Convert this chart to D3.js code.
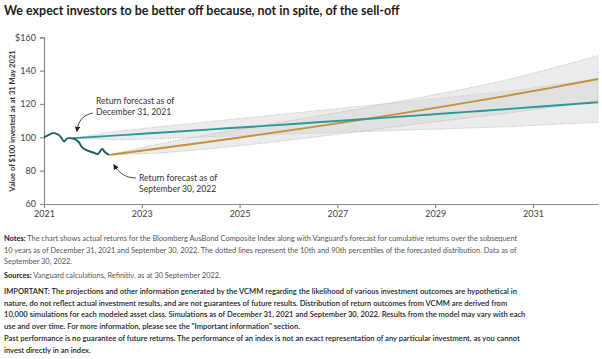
<!DOCTYPE html>
<html><head><meta charset="utf-8">
<script src="https://cdn.jsdelivr.net/npm/d3@7"></script>
<style>
body{margin:0;background:#fff;}
svg{display:block;font-family:Lato,"Noto Sans",sans-serif;}
</style></head>
<body><svg id="c" width="602" height="359"></svg>
<script>
// ---- data (years since 31 May 2021, value of $100) ----
const histT   = [0, 0.1, 0.18, 0.27, 0.35, 0.41, 0.47, 0.53, 0.61, 0.7, 0.78, 0.86, 0.94, 1.04, 1.1, 1.19, 1.25, 1.33];
const histV   = [100, 101.5, 102.5, 102, 100, 97.5, 99.3, 99.5, 99, 97.5, 94, 92.5, 91.5, 90.5, 90, 93, 91, 89.5];

const decT    = [0.59, 1.59, 2.59, 3.59, 4.59, 5.59, 6.59, 7.59, 8.59, 9.59, 10.59, 11.33];
const decMid  = [99.5, 101.3, 103.2, 105.1, 107.0, 109.0, 111.0, 113.0, 115.1, 117.2, 119.4, 121.0];
const decLo   = [99.5, 98.5, 99.5, 100.5, 101.5, 102.5, 103.5, 104.5, 105.5, 106.5, 108, 109];
const decHi   = [99.5, 104, 107, 110, 113, 116, 119, 122, 125, 128, 132, 135];

const sepT    = [1.34, 2.34, 3.34, 4.34, 5.34, 6.34, 7.34, 8.34, 9.34, 10.34, 11.33];
const sepMid  = [89.5, 93.3, 97.2, 101.3, 105.5, 109.9, 114.5, 119.3, 124.3, 129.5, 135.0];
const sepLo   = [89.5, 90.5, 93, 96, 99.5, 103, 107, 110.5, 114, 118, 122];
const sepHi   = [89.5, 96, 101.5, 106.5, 111.5, 116.5, 122, 127.5, 133.5, 141, 149];

const xTickVals   = [0, 2, 4, 6, 8, 10];
const xTickLabels = ["2021", "2023", "2025", "2027", "2029", "2031"];
const yTickVals   = [60, 80, 100, 120, 140, 160];
const yTickLabels = ["60", "80", "100", "120", "140", "$160"];

const title = "We expect investors to be better off because, not in spite, of the sell-off";
const yTitle = "Value of $100 invested as at 31 May 2021";
const ann1 = ["Return forecast as of", "December 31, 2021"];
const ann2 = ["Return forecast as of", "September 30, 2022"];

// ---- build ----
const svg = d3.select("#c");
const x = d3.scaleLinear().domain([0, 11.33]).range([44, 598]);
const y = d3.scaleLinear().domain([60, 160]).range([204, 37.3]);

const tt = svg.append("text").attr("x", 4).attr("y", 15).attr("font-size", 13)
  .attr("font-weight", 700).attr("fill", "#1b1b1b").text(title);
tt.attr("font-size", 13 * 396 / tt.node().getComputedTextLength());

// bands
function band(T, lo, hi) {
  const pts = T.map((t, i) => ({t, lo: lo[i], hi: hi[i]}));
  svg.append("path").datum(pts)
    .attr("d", d3.area().x(d => x(d.t)).y0(d => y(d.lo)).y1(d => y(d.hi)))
    .attr("fill", "#d4d4d4").attr("fill-opacity", 0.45);
  ["lo", "hi"].forEach(k => {
    svg.append("path").datum(pts)
      .attr("d", d3.line().x(d => x(d.t)).y(d => y(d[k])))
      .attr("fill", "none").attr("stroke", "#b8b8b8").attr("stroke-width", 1)
      .attr("stroke-dasharray", "1,1.5");
  });
  svg.append("line").attr("x1", x(T[T.length-1])).attr("x2", x(T[T.length-1]))
    .attr("y1", y(lo[lo.length-1])).attr("y2", y(hi[hi.length-1]))
    .attr("stroke", "#c8c8c8").attr("stroke-width", 1).attr("stroke-dasharray", "1,1.5");
}
band(decT, decLo, decHi);
band(sepT, sepLo, sepHi);

// axes
const yAxis = d3.axisLeft(y).tickValues(yTickVals).tickSize(4).tickPadding(4)
  .tickFormat((d, i) => yTickLabels[i]);
const gy = svg.append("g").attr("transform", "translate(44,0)").call(yAxis);
const xAxis = d3.axisBottom(x).tickValues(xTickVals).tickSize(4).tickSizeOuter(0).tickPadding(3)
  .tickFormat((d, i) => xTickLabels[i]);
const gx = svg.append("g").attr("transform", "translate(0,204)").call(xAxis);
[gx, gy].forEach(g => {
  g.select(".domain").attr("stroke", "#8a8a8a").attr("stroke-width", 1.2);
  g.selectAll(".tick line").attr("stroke", "#8a8a8a").attr("stroke-width", 1.2);
  g.selectAll(".tick text").attr("fill", "#444").attr("font-size", 9)
    .attr("font-family", "Lato,'Noto Sans',sans-serif");
});

svg.append("text").attr("transform", "translate(15,121) rotate(-90)")
  .attr("text-anchor", "middle").attr("font-size", 7.6).attr("font-weight", 700)
  .attr("fill", "#333").text(yTitle);

// lines
const line = d3.line().x(d => x(d[0])).y(d => y(d[1])).curve(d3.curveMonotoneX);
svg.append("path").datum(sepT.map((t, i) => [t, sepMid[i]])).attr("d", line)
  .attr("fill", "none").attr("stroke", "#c4913a").attr("stroke-width", 1.9);
svg.append("path").datum(decT.map((t, i) => [t, decMid[i]])).attr("d", line)
  .attr("fill", "none").attr("stroke", "#2b9a97").attr("stroke-width", 1.9);
svg.append("path").datum(histT.map((t, i) => [t, histV[i]]))
  .attr("d", d3.line().x(d => x(d[0])).y(d => y(d[1])).curve(d3.curveCatmullRom))
  .attr("fill", "none").attr("stroke", "#1e5b5e").attr("stroke-width", 1.9);

// annotations
const defs = svg.append("defs");
defs.append("marker").attr("id", "ah").attr("viewBox", "0 0 10 10").attr("refX", 8).attr("refY", 5)
  .attr("markerWidth", 6).attr("markerHeight", 6).attr("orient", "auto")
  .append("path").attr("d", "M0,0L10,5L0,10z").attr("fill", "#1b1b1b");

const annText = (lines, ax, ay) => {
  const t = svg.append("text").attr("x", ax).attr("y", ay).attr("font-size", 8.6).attr("fill", "#333");
  lines.forEach((l, i) => t.append("tspan").attr("x", ax).attr("dy", i ? 10.5 : 0).text(l));
};
annText(ann1, 96, 104);
annText(ann2, 139, 181);
svg.append("path").attr("d", "M93,113 C82,115 78,122 77,131")
  .attr("fill", "none").attr("stroke", "#333").attr("stroke-width", 0.9).attr("marker-end", "url(#ah)");
svg.append("path").attr("d", "M136,178 C125,178 118,172 114,165")
  .attr("fill", "none").attr("stroke", "#333").attr("stroke-width", 0.9).attr("marker-end", "url(#ah)");

// notes
const notes = [
  {y: 241, w: 514, bold: false, runs: [["Notes:", 700], [" The chart shows actual returns for the Bloomberg AusBond Composite Index along with Vanguard’s forecast for cumulative returns over the subsequent", 400]]},
  {y: 252.5, w: 514, bold: false, runs: [["10 years as of December 31, 2021 and September 30, 2022. The dotted lines represent the 10th and 90th percentiles of the forecasted distribution. Data as of", 400]]},
  {y: 264, w: 0, bold: false, runs: [["September 30, 2022.", 400]]},
  {y: 278, w: 0, bold: false, runs: [["Sources:", 700], [" Vanguard calculations, Refinitiv, as at 30 September 2022.", 400]]},
  {y: 294, w: 514, bold: true, runs: [["IMPORTANT: The projections and other information generated by the VCMM regarding the likelihood of various investment outcomes are hypothetical in", 600]]},
  {y: 305.5, w: 509, bold: true, runs: [["nature, do not reflect actual investment results, and are not guarantees of future results. Distribution of return outcomes from VCMM are derived from", 600]]},
  {y: 317, w: 516, bold: true, runs: [["10,000 simulations for each modeled asset class. Simulations as of December 31, 2021 and September 30, 2022. Results from the model may vary with each", 600]]},
  {y: 328.5, w: 0, bold: true, runs: [["use and over time. For more information, please see the \"Important information\" section.", 600]]},
  {y: 341, w: 516, bold: true, runs: [["Past performance is no guarantee of future returns. The performance of an index is not an exact representation of any particular investment, as you cannot", 600]]},
  {y: 352.5, w: 0, bold: true, runs: [["invest directly in an index.", 600]]}
];
const texts = notes.map(n => {
  const t = svg.append("text").attr("x", 4).attr("y", n.y).attr("font-size", 8)
    .attr("fill", n.bold ? "#222" : "#555");
  n.runs.forEach(r => t.append("tspan").attr("font-weight", r[1])
    .attr("fill", r[1] === 700 && !n.bold ? "#222" : null).text(r[0]));
  return t;
});
let plainScale = [], boldScale = [];
notes.forEach((n, i) => {
  if (n.w) {
    const L = texts[i].node().getComputedTextLength();
    (n.bold ? boldScale : plainScale).push(n.w / L);
  }
});
const avg = a => a.reduce((s, v) => s + v, 0) / a.length;
notes.forEach((n, i) => texts[i].attr("font-size", 8 * avg(n.bold ? boldScale : plainScale)));
</script></body></html>
